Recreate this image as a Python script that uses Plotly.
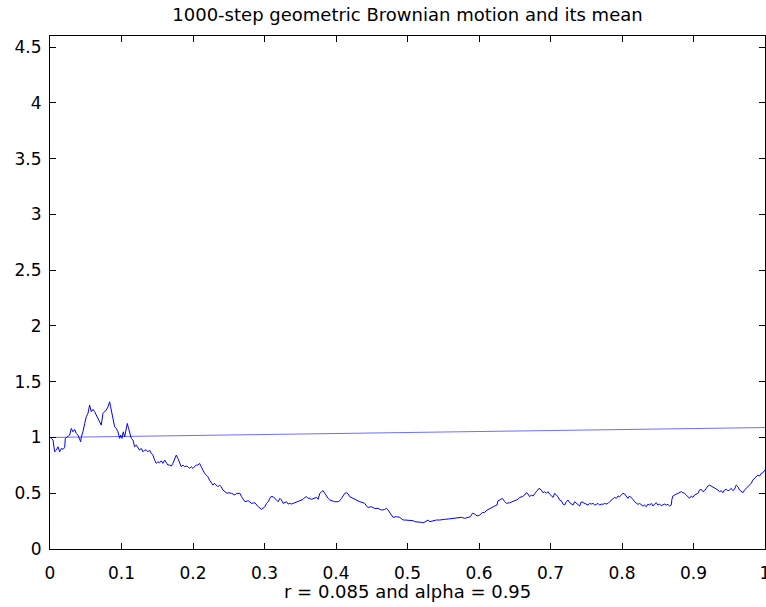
import plotly.graph_objects as go

# ---- data ----
title_text = "1000-step geometric Brownian motion and its mean"
xlabel_text = "r = 0.085 and alpha = 0.95"

x_ticks = [0, 0.1, 0.2, 0.3, 0.4, 0.5, 0.6, 0.7, 0.8, 0.9, 1]
y_ticks = [0, 0.5, 1, 1.5, 2, 2.5, 3, 3.5, 4, 4.5]
x_range = [0, 1]
y_range = [0, 4.6]

# mean curve
t_mean = [0.0, 0.25, 0.5, 0.75, 1.0]
v_mean = [1.0, 1.021, 1.043, 1.066, 1.089]

# path, segment 1 (t 0 - 0.25)
t_seg1 = [0.0000,0.0019,0.0042,0.0065,0.0089,0.0112,0.0135,0.0158,0.0182,0.0205,
          0.0214,0.0242,0.0275,0.0298,0.0321,0.0345,0.0368,0.0391,0.0415,0.0429,
          0.0438,0.0461,0.0485,0.0508,0.0531,0.0554,0.0578,0.0601,0.0624,0.0648,
          0.0671,0.0694,0.0717,0.0741,0.0764,0.0787,0.0811,0.0834,0.0848,0.0867,
          0.0885,0.0904,0.0927,0.0950,0.0974,0.0988,0.1006,0.1025,0.1044,0.1067,
          0.1081,0.1099,0.1118,0.1137,0.1160,0.1183,0.1207,0.1230,0.1253,0.1277,
          0.1300,0.1323,0.1346,0.1370,0.1393,0.1416,0.1440,0.1463,0.1486,0.1509,
          0.1533,0.1556,0.1579,0.1603,0.1626,0.1649,0.1673,0.1696,0.1719,0.1742,
          0.1766,0.1789,0.1812,0.1836,0.1859,0.1882,0.1905,0.1929,0.1952,0.1975,
          0.1999,0.2022,0.2045,0.2068,0.2092,0.2115,0.2138,0.2162,0.2185,0.2208,
          0.2232,0.2255,0.2278,0.2301,0.2325,0.2348,0.2371,0.2395,0.2418,0.2441,
          0.2464,0.2488]
v_seg1 = [1.006,0.992,0.977,0.872,0.887,0.917,0.872,0.902,0.893,0.911,
          0.992,1.006,1.021,1.081,1.051,1.072,1.036,1.021,0.977,0.962,
          1.006,1.051,1.126,1.186,1.216,1.290,1.231,1.252,1.231,1.201,
          1.171,1.141,1.111,1.216,1.231,1.246,1.275,1.320,1.275,1.216,
          1.186,1.096,1.081,1.051,0.992,1.021,0.992,1.051,1.006,1.081,
          1.126,1.081,1.021,0.992,0.977,0.917,0.932,0.902,0.887,0.902,
          0.872,0.887,0.887,0.872,0.887,0.857,0.842,0.797,0.768,0.782,
          0.773,0.791,0.768,0.797,0.768,0.753,0.753,0.744,0.768,0.812,
          0.842,0.812,0.768,0.738,0.753,0.738,0.744,0.738,0.723,0.738,
          0.723,0.738,0.753,0.753,0.768,0.738,0.708,0.678,0.663,0.648,
          0.618,0.589,0.573,0.589,0.573,0.558,0.573,0.558,0.529,0.514,
          0.505,0.499]

# path, segment 2 (t 0.25 - 0.50)
t_seg2 = [0.2493,0.2539,0.2586,0.2609,0.2656,0.2679,0.2702,0.2726,0.2772,0.2819,
          0.2865,0.2889,0.2912,0.2958,0.2982,0.3005,0.3028,0.3052,0.3075,0.3089,
          0.3122,0.3145,0.3168,0.3191,0.3215,0.3238,0.3261,0.3285,0.3308,0.3331,
          0.3354,0.3378,0.3424,0.3471,0.3518,0.3541,0.3564,0.3587,0.3611,0.3634,
          0.3657,0.3704,0.3727,0.3750,0.3774,0.3797,0.3820,0.3844,0.3867,0.3890,
          0.3914,0.3937,0.3983,0.4030,0.4053,0.4077,0.4100,0.4123,0.4146,0.4170,
          0.4193,0.4240,0.4286,0.4333,0.4379,0.4403,0.4426,0.4449,0.4496,0.4542,
          0.4589,0.4636,0.4682,0.4706,0.4729,0.4752,0.4775,0.4799,0.4845,0.4892,
          0.4915,0.4938,0.4962]
v_seg2 = [0.505,0.499,0.484,0.499,0.499,0.469,0.445,0.424,0.433,0.409,
          0.415,0.394,0.379,0.355,0.364,0.379,0.409,0.424,0.454,0.469,
          0.469,0.454,0.433,0.424,0.454,0.439,0.409,0.415,0.424,0.403,
          0.409,0.403,0.415,0.424,0.433,0.445,0.463,0.469,0.454,0.454,
          0.445,0.454,0.463,0.445,0.499,0.514,0.523,0.499,0.475,0.454,
          0.439,0.433,0.424,0.424,0.433,0.454,0.475,0.499,0.505,0.493,
          0.469,0.454,0.433,0.424,0.415,0.409,0.385,0.373,0.379,0.364,
          0.364,0.349,0.355,0.364,0.349,0.320,0.305,0.284,0.290,0.284,
          0.275,0.260,0.260]

# path, segment 3 (t 0.50 - 0.74)
t_seg3 = [0.4985,0.5032,0.5078,0.5102,0.5148,0.5195,0.5227,0.5265,0.5288,0.5311,
          0.5358,0.5404,0.5451,0.5498,0.5521,0.5568,0.5614,0.5661,0.5707,0.5754,
          0.5800,0.5847,0.5880,0.5908,0.5940,0.5973,0.6010,0.6047,0.6080,0.6113,
          0.6150,0.6187,0.6220,0.6252,0.6266,0.6290,0.6327,0.6360,0.6383,0.6429,
          0.6476,0.6523,0.6546,0.6569,0.6606,0.6639,0.6662,0.6686,0.6709,0.6732,
          0.6756,0.6779,0.6802,0.6839,0.6872,0.6895,0.6919,0.6942,0.6965,0.6988,
          0.7012,0.7035,0.7058,0.7082,0.7105,0.7128,0.7152,0.7175,0.7198,0.7221,
          0.7245,0.7268,0.7291,0.7315,0.7338,0.7361,0.7384,0.7408]
v_seg3 = [0.260,0.260,0.254,0.245,0.245,0.239,0.236,0.254,0.260,0.245,
          0.254,0.260,0.260,0.260,0.266,0.269,0.272,0.275,0.284,0.284,
          0.275,0.284,0.290,0.320,0.314,0.296,0.305,0.326,0.329,0.349,
          0.364,0.379,0.385,0.394,0.433,0.439,0.454,0.424,0.409,0.415,
          0.424,0.439,0.445,0.463,0.469,0.484,0.505,0.493,0.469,0.484,
          0.475,0.499,0.514,0.544,0.529,0.505,0.514,0.499,0.514,0.493,
          0.475,0.463,0.499,0.484,0.469,0.439,0.433,0.403,0.394,0.424,
          0.439,0.415,0.403,0.394,0.424,0.409,0.394,0.385]

# path, segment 4 (t 0.74 - 1)
t_seg4 = [0.7431,0.7454,0.7478,0.7501,0.7524,0.7548,0.7571,0.7594,0.7618,0.7641,
          0.7664,0.7687,0.7711,0.7734,0.7757,0.7781,0.7804,0.7827,0.7850,0.7874,
          0.7897,0.7920,0.7944,0.7967,0.7990,0.8014,0.8037,0.8060,0.8083,0.8107,
          0.8130,0.8153,0.8177,0.8200,0.8223,0.8246,0.8270,0.8293,0.8316,0.8340,
          0.8363,0.8386,0.8410,0.8433,0.8456,0.8479,0.8503,0.8526,0.8549,0.8573,
          0.8596,0.8619,0.8642,0.8666,0.8689,
          0.8698,
          0.8712,0.8736,0.8759,0.8782,0.8805,0.8829,0.8852,0.8875,0.8899,0.8922,
          0.8945,0.8969,0.8992,0.9015,0.9038,0.9062,0.9085,0.9108,0.9132,0.9155,
          0.9178,0.9201,0.9225,0.9248,0.9271,0.9295,0.9318,0.9341,0.9365,0.9388,
          0.9411,0.9434,0.9458,0.9481,0.9504,0.9528,0.9551,0.9574,0.9597,0.9621,
          0.9644,0.9667,0.9691,0.9714,0.9737,0.9761,0.9784,0.9807,0.9830,0.9854,
          0.9877,0.9900,0.9924,0.9947,0.9970,1.0000]
v_seg4 = [0.424,0.415,0.409,0.403,0.394,0.409,0.403,0.409,0.394,0.400,
          0.409,0.394,0.403,0.400,0.409,0.403,0.409,0.424,0.439,0.454,
          0.463,0.454,0.475,0.469,0.484,0.499,0.493,0.475,0.454,0.475,
          0.463,0.445,0.424,0.415,0.400,0.409,0.394,0.385,0.394,0.379,
          0.403,0.394,0.409,0.385,0.403,0.415,0.394,0.403,0.388,0.394,
          0.403,0.394,0.400,0.385,0.394,
          0.445,
          0.475,0.484,0.493,0.499,0.505,0.514,0.505,0.499,0.484,0.469,
          0.454,0.475,0.463,0.484,0.493,0.499,0.529,0.535,0.514,0.523,
          0.544,0.565,0.573,0.565,0.553,0.544,0.535,0.529,0.514,0.523,
          0.505,0.529,0.535,0.523,0.529,0.544,0.523,0.535,0.573,0.559,
          0.529,0.514,0.505,0.529,0.544,0.559,0.582,0.588,0.618,0.633,
          0.648,0.663,0.654,0.678,0.684,0.708]

t_path = t_seg1 + t_seg2 + t_seg3 + t_seg4
v_path = v_seg1 + v_seg2 + v_seg3 + v_seg4

# ---- figure ----
FONT = "DejaVu Sans"
fig = go.Figure()
fig.add_trace(go.Scatter(x=t_mean, y=v_mean, mode="lines",
                         line=dict(color="rgb(110,110,255)", width=1),
                         hoverinfo="skip", showlegend=False))
fig.add_trace(go.Scatter(x=t_path, y=v_path, mode="lines",
                         line=dict(color="rgb(0,0,255)", width=1),
                         showlegend=False))

axis_common = dict(showline=True, linecolor="black", linewidth=1.2, mirror="allticks",
                   ticks="inside", ticklen=6, tickwidth=1, tickcolor="black",
                   showgrid=False, zeroline=False, automargin=False,
                   ticklabeloverflow="allow",
                   tickfont=dict(family=FONT, size=17, color="black"))

fig.update_xaxes(range=x_range, tickvals=x_ticks,
                 ticktext=[f"{v:g}" for v in x_ticks],
                 ticklabelstandoff=8, **axis_common)
fig.update_yaxes(range=y_range, tickvals=y_ticks,
                 ticktext=[f"{v:g}" for v in y_ticks],
                 ticklabelstandoff=4, **axis_common)

fig.update_layout(
    width=766, height=607,
    template="none",
    paper_bgcolor="white", plot_bgcolor="white",
    margin=dict(l=50, r=1, t=36, b=58, pad=0),
    font=dict(family=FONT, size=17, color="black"),
    title=dict(text=title_text, x=0.5, xref="paper", xanchor="center",
               y=1 - 14.5 / 607, yref="container", yanchor="middle",
               font=dict(family=FONT, size=18, color="black")),
    annotations=[dict(text=xlabel_text, x=0.5, xref="paper", xanchor="center",
                      y=-42 / 513, yref="paper", yanchor="middle", showarrow=False,
                      font=dict(family=FONT, size=18, color="black"))],
)

fig.write_html("out.html", config={"displayModeBar": False},
               post_script="document.body.style.margin='0px';document.body.style.padding='0px';")
